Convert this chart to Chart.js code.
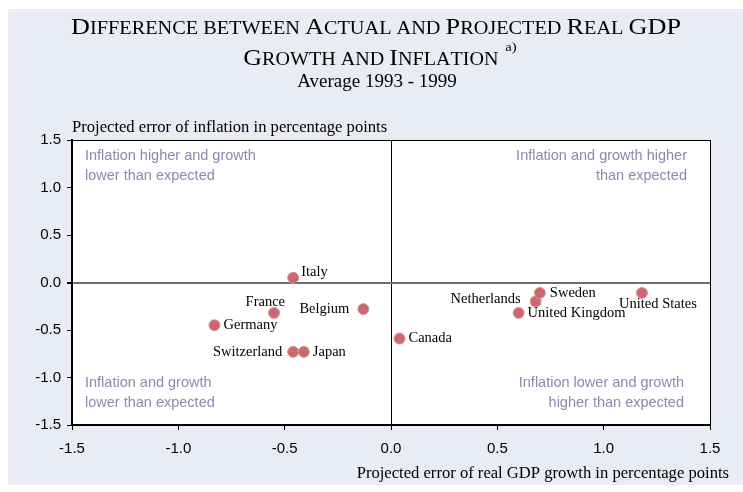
<!DOCTYPE html>
<html>
<head>
<meta charset="utf-8">
<script src="https://cdn.jsdelivr.net/npm/chart.js@4.4.1/dist/chart.umd.min.js"></script>
<style>
  html, body { margin: 0; padding: 0; background: #fff; }
  #wrap { width: 743px; height: 492px; position: relative; }
</style>
</head>
<body>
<div id="wrap"><canvas id="chart" width="743" height="492"></canvas></div>
<script>
// data
const countries = ["Italy", "France", "Belgium", "Germany", "Switzerland", "Japan",
  "Canada", "United Kingdom", "Netherlands", "Sweden", "United States"];
const gdpError = [-0.46, -0.55, -0.13, -0.83, -0.46, -0.41, 0.04, 0.60, 0.68, 0.70, 1.18];
const inflationError = [0.05, -0.32, -0.28, -0.45, -0.73, -0.73, -0.59, -0.32, -0.20, -0.11, -0.11];
const axisTicks = [-1.5, -1.0, -0.5, 0.0, 0.5, 1.0, 1.5];

// label placement next to each dot: [dx, dy, align]
const labelPlace = [
  [8, -6, "left"], [11, -11, "right"], [-14, 0, "right"], [9, 0, "left"],
  [-11, 0, "right"], [9, 0, "left"], [9, 0, "left"], [9, 0, "left"],
  [-15, -2, "right"], [10, 0, "left"], [16, 11, "center"]
];

const serif = '"Liberation Serif", "Times New Roman", serif';
const sans = '"Liberation Sans", Arial, sans-serif';

// title drawn in small caps, stretched a little like the original
function drawSmallCaps(ctx, text, cx, y, big, small, stretch, sup) {
  const parts = [...text].map(ch => ({
    ch: ch.toUpperCase(),
    size: (ch === ch.toUpperCase() && ch !== ch.toLowerCase()) ? big : small
  }));
  let w = 0;
  parts.forEach(p => { ctx.font = p.size + "px " + serif; p.w = ctx.measureText(p.ch).width; w += p.w; });
  let supW = 0;
  if (sup) { ctx.font = "13px " + serif; supW = ctx.measureText(sup).width + 6; }
  ctx.save();
  ctx.translate(cx, y);
  ctx.scale(stretch, 1);
  let x = -(w + supW) / 2;
  ctx.textAlign = "left";
  ctx.textBaseline = "alphabetic";
  parts.forEach(p => { ctx.font = p.size + "px " + serif; ctx.fillText(p.ch, x, 0); x += p.w; });
  if (sup) { ctx.font = "13px " + serif; ctx.fillText(sup, x + 6, -14); }
  ctx.restore();
}

const decor = {
  id: "decor",
  beforeDraw(chart) {
    const ctx = chart.ctx, a = chart.chartArea;
    ctx.save();
    ctx.fillStyle = "#e9ebf5";
    ctx.fillRect(8, 9, 735, 476);
    ctx.fillStyle = "#fff";
    ctx.fillRect(a.left, a.top, a.right - a.left, a.bottom - a.top);

    ctx.fillStyle = "#000";
    drawSmallCaps(ctx, "Difference between Actual and Projected Real GDP", 376, 34, 23, 17.8, 1.14);
    drawSmallCaps(ctx, "Growth and Inflation", 380, 65, 23, 17.8, 1.13, "a)");
    ctx.font = "19px " + serif;
    ctx.textAlign = "center";
    ctx.fillText("Average 1993 - 1999", 377, 87);

    ctx.font = "16.6px " + serif;
    ctx.textAlign = "left";
    ctx.fillText("Projected error of inflation in percentage points", 72, 132);
    ctx.textAlign = "right";
    ctx.fillText("Projected error of real GDP growth in percentage points", 729, 478);

    ctx.font = "14.5px " + sans;
    ctx.fillStyle = "#878cab";
    ctx.textAlign = "left";
    ctx.fillText("Inflation higher and growth", 85, 160);
    ctx.fillText("lower than expected", 85, 180);
    ctx.fillText("Inflation and growth", 85, 387);
    ctx.fillText("lower than expected", 85, 407);
    ctx.textAlign = "right";
    ctx.fillText("Inflation and growth higher", 687, 160);
    ctx.fillText("than expected", 687, 180);
    ctx.fillText("Inflation lower and growth", 684, 387);
    ctx.fillText("higher than expected", 684, 407);
    ctx.restore();
  },
  afterDatasetsDraw(chart) {
    const ctx = chart.ctx;
    const meta = chart.getDatasetMeta(0);
    ctx.save();
    ctx.font = "14.5px " + serif;
    ctx.fillStyle = "#000";
    ctx.textBaseline = "middle";
    meta.data.forEach((pt, i) => {
      const [dx, dy, align] = labelPlace[i];
      ctx.textAlign = align;
      ctx.fillText(countries[i], pt.x + dx, pt.y + dy);
    });
    ctx.restore();
  }
};

function edgeColor(zeroColor) {
  return c => {
    if (c.tick.value === 0) return zeroColor;
    if (c.tick.value === 1.5) return "#000";
    return "rgba(0,0,0,0)";
  };
}

new Chart(document.getElementById("chart"), {
  type: "scatter",
  data: {
    datasets: [{
      data: gdpError.map((x, i) => ({ x, y: inflationError[i] })),
      backgroundColor: "#d06573",
      borderColor: "#c9a08e",
      borderWidth: 1,
      pointRadius: 5.5,
      pointHoverRadius: 5.5
    }]
  },
  options: {
    responsive: false,
    animation: false,
    layout: { padding: { left: 0, top: 140, right: 33, bottom: 0 } },
    plugins: { legend: { display: false }, tooltip: { enabled: false } },
    scales: {
      x: {
        type: "linear", min: -1.5, max: 1.5,
        afterBuildTicks: s => { s.ticks = axisTicks.map(v => ({ value: v })); },
        afterFit: s => { s.height = 67; },
        ticks: { callback: v => v.toFixed(1), color: "#000", padding: 10,
          font: { family: sans, size: 15 } },
        grid: { color: edgeColor("#000"), lineWidth: 1, tickColor: "#000", tickLength: 5 },
        border: { color: "#000", width: 2 }
      },
      y: {
        type: "linear", min: -1.5, max: 1.5,
        afterBuildTicks: s => { s.ticks = axisTicks.map(v => ({ value: v })); },
        afterFit: s => { s.width = 72; },
        ticks: { callback: v => v.toFixed(1), color: "#000", padding: 6,
          font: { family: sans, size: 15 } },
        grid: { color: edgeColor("#6e6e6e"), lineWidth: c => c.tick.value === 0 ? 2 : 1,
          tickColor: "#000", tickLength: 5 },
        border: { color: "#000", width: 2 }
      }
    }
  },
  plugins: [decor]
});
</script>
</body>
</html>
